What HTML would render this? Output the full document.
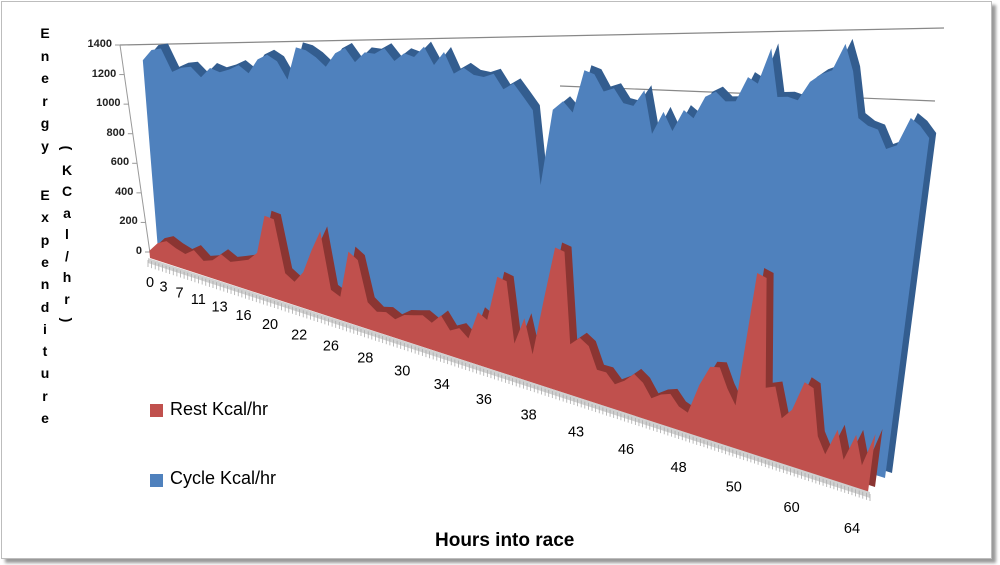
<!DOCTYPE html>
<html><head><meta charset="utf-8"><style>
html,body{margin:0;padding:0;background:#fff;}
#wrap{position:relative;width:1000px;height:565px;overflow:hidden;font-family:"Liberation Sans",sans-serif;}
#frame{position:absolute;left:1px;top:1px;width:989px;height:556px;border:1px solid #bdbdbd;box-shadow:4px 4px 3px #9a9a9a;background:#fff;}
.yl{position:absolute;font-size:11px;color:#222;font-weight:bold;text-align:right;width:40px;}
.tl{position:absolute;font-size:14px;font-weight:bold;color:#000;width:14px;text-align:center;}
.leg{position:absolute;font-size:18px;color:#000;}
.sw{position:absolute;width:13px;height:13px;}
</style></head><body>
<div id="wrap">
<div id="frame"></div>
<svg id="plot" width="1000" height="565" style="position:absolute;left:0;top:0"></svg>
<div id="ytitle"></div>
<div class="sw" style="left:150px;top:404px;background:#c0504d"></div>
<div class="leg" style="left:170px;top:399px">Rest Kcal/hr</div>
<div class="sw" style="left:150px;top:474px;background:#4f81bd"></div>
<div class="leg" style="left:170px;top:468px">Cycle Kcal/hr</div>
<div style="position:absolute;left:435px;top:530px;font-size:19px;font-weight:bold">Hours into race</div>
</div>
<script>
const cycleValues=[1300,1360,1360,1200,1220,1220,1150,1200,1170,1180,
1200,1150,1220,1240,1200,1100,1260,1240,1200,1150,
1210,1230,1160,1200,1190,1210,1150,1180,1160,1200,
1120,1170,1080,1100,1070,1060,1070,1010,1030,980,
930,660,930,960,920,1065,1050,990,1000,950,
940,990,850,920,860,925,900,965,980,950,
950,1020,1000,1100,960,960,950,1000,1020,1030,
1100,1025,900,880,870,820,830,900,880,850];
const restValues=[50,120,150,120,100,140,90,110,160,130,
150,170,220,430,420,150,120,180,300,400,
130,110,330,300,120,90,100,80,110,120,
130,110,150,100,120,90,200,180,350,340,
120,220,100,300,490,480,170,200,180,110,
110,80,100,130,110,70,90,100,70,60,
150,210,215,160,120,500,490,190,200,120,
150,230,220,100,60,130,60,130,60,145];
const xLabels=["0","3","7","11","13","16","20","22","26","28","30","34","36","38","43","46","48","50","60","64"];
const yTicks=[0,200,400,600,800,1000,1200,1400];

const NS="http://www.w3.org/2000/svg";
const svg=document.getElementById('plot');
function mk(tag,attrs){const e=document.createElementNS(NS,tag);for(const k in attrs)e.setAttribute(k,attrs[k]);svg.appendChild(e);return e;}
function proj(row,i,n,v){
  const t=i/(n-1);
  let bx,by;
  if(row==='blue'){bx=158+t*(885-158);by=250+t*(478-250);}
  else{bx=150+t*(868-150);by=258+t*(492-258);}
  const s=0.146+t*(0.40-0.146);
  const lean=-0.08+t*0.21;
  const h=v*s;
  return [bx+h*lean,by-h];
}
function series(row,vals,front,dark,dx,dy,name){
  const n=vals.length;
  const top=vals.map((v,i)=>proj(row,i,n,v));
  const base=[proj(row,n-1,n,0),proj(row,0,n,0)];
  const pts=top.concat(base);
  const str=(ox,oy)=>pts.map(p=>(p[0]+ox).toFixed(1)+','+(p[1]+oy).toFixed(1)).join(' ');
  const d=mk('polygon',{points:str(dx,dy),fill:dark});
  
  
  const f=mk('polygon',{points:str(0,0),fill:front});
  
  
}
let l=mk('line',{x1:120,y1:45,x2:944,y2:28,stroke:'#888','stroke-width':1.2});

l=mk('line',{x1:560,y1:86,x2:935,y2:101,stroke:'#888','stroke-width':1.2});

l=mk('line',{x1:120,y1:45,x2:150,y2:253,stroke:'#999','stroke-width':1});

yTicks.forEach(v=>{
  const f=v/1400;const y=252-f*207;const x=150-f*30;
  const tk=mk('line',{x1:x-5,y1:y,x2:x,y2:y,stroke:'#999'});
  
  const d=document.createElement('div');d.className='yl';
  d.style.left=(x-48)+'px';d.style.top=(y-7)+'px';d.textContent=v;
  
  
  document.getElementById('wrap').appendChild(d);
});
series('blue',cycleValues,'#4f81bd','#335d8f',7,-5,'cycle');
series('red',restValues,'#c0504d','#8b3532',7,-5,'rest');
const fl=mk('polygon',{points:'148,258 870,492 870,498 148,263',fill:'#d0d0d0'});

for(let k=0;k<=200;k++){const t=k/200;const x=148+t*722,y=260+t*234;
  const tk=mk('line',{x1:x,y1:y,x2:x,y2:y+7,stroke:'#aaa','stroke-width':0.8});
  }
xLabels.forEach((s,i)=>{const t=i/(xLabels.length-1);const u=0.33*t+0.67*t*t;
  const tx=mk('text',{x:150+u*(852-150),y:287+u*(533-287),'font-size':14.5,'font-family':'Liberation Sans, sans-serif',fill:'#000','text-anchor':'middle'});
  tx.textContent=s;
  
  
});
const yt=document.getElementById('ytitle');
function stack(txt,x,y0,dy,name){[...txt].forEach((c,i)=>{if(c===' ')return;const d=document.createElement('div');d.className='tl';d.style.left=x+'px';d.style.top=(y0+i*dy)+'px';d.textContent=c;
  if(c==='('||c===')'){d.style.transform='rotate(90deg)';}
  
  
  yt.appendChild(d);});}
stack('Energy',38,25,22.5,'y-title-letter');
stack('Expenditure',38,187,22.3,'y-title-letter');
stack('(KCal/hr)',60,140,21.5,'y-title-unit-letter');
</script>
</body></html>
